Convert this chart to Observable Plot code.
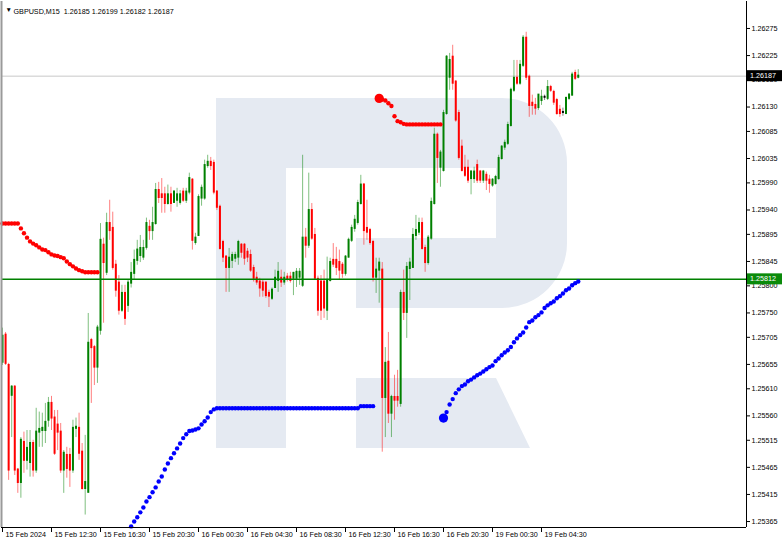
<!DOCTYPE html>
<html><head><meta charset="utf-8">
<script src="https://cdn.jsdelivr.net/npm/d3@7"></script>
<script src="https://cdn.jsdelivr.net/npm/@observablehq/plot@0.6"></script>
<style>
html,body{margin:0;padding:0;background:#fff;}
#chart{position:relative;width:782px;height:545px;overflow:hidden;background:#fff}
</style></head><body><div id="chart"></div>
<script>
const symbol = "GBPUSD,M15";
const open = [1.25659,1.25709,1.25653,1.25598,1.25613,1.25460,1.25437,1.25511,1.25478,1.25474,
1.25509,1.25460,1.25530,1.25533,1.25533,1.25552,1.25583,1.25556,1.25543,1.25530,
1.25460,1.25487,1.25487,1.25460,1.25537,1.25537,1.25493,1.25426,1.25419,1.25699,
1.25686,1.25650,1.25718,1.25875,1.25825,1.25915,1.25906,1.25838,1.25805,1.25755,
1.25786,1.25764,1.25805,1.25823,1.25847,1.25856,1.25853,1.25871,1.25908,1.25902,
1.25915,1.25976,1.25968,1.25968,1.25952,1.25968,1.25954,1.25958,1.25954,1.25973,
1.25958,1.25973,1.25995,1.25880,1.25893,1.25962,1.25962,1.26022,1.26028,1.26026,
1.25973,1.25945,1.25880,1.25853,1.25834,1.25847,1.25851,1.25853,1.25875,1.25875,
1.25862,1.25856,1.25832,1.25814,1.25807,1.25805,1.25805,1.25786,1.25777,1.25797,
1.25810,1.25814,1.25807,1.25816,1.25816,1.25814,1.25814,1.25816,1.25801,1.25888,
1.25875,1.25939,1.25893,1.25812,1.25807,1.25807,1.25755,1.25810,1.25847,1.25847,
1.25843,1.25838,1.25823,1.25853,1.25884,1.25906,1.25917,1.25952,1.25986,1.25906,
1.25902,1.25880,1.25816,1.25829,1.25829,1.25594,1.25659,1.25565,1.25594,1.25594,
1.25583,1.25786,1.25751,1.25832,1.25834,1.25893,1.25899,1.25915,1.25869,1.25843,
1.25888,1.25952,1.26078,1.26019,1.26013,1.26118,1.26185,1.26222,1.26176,1.26118,
1.26056,1.26017,1.26017,1.25998,1.25998,1.26022,1.26010,1.25995,1.26004,1.25995,
1.25986,1.25989,1.25998,1.26035,1.26056,1.26063,1.26096,1.26161,1.26183,1.26174,
1.26207,1.26257,1.26185,1.26137,1.26133,1.26129,1.26142,1.26148,1.26146,1.26166,
1.26157,1.26142,1.26124,1.26120,1.26118,1.26146,1.26152,1.26192,1.26185];
const high = [1.25722,1.25714,1.25657,1.25616,1.25616,1.25463,1.25520,1.25530,1.25533,1.25533,
1.25515,1.25574,1.25567,1.25565,1.25583,1.25594,1.25596,1.25570,1.25570,1.25546,
1.25496,1.25502,1.25500,1.25552,1.25556,1.25565,1.25509,1.25524,1.25749,1.25703,
1.25690,1.25727,1.25915,1.25888,1.25934,1.25958,1.25936,1.25847,1.25819,1.25801,
1.25801,1.25810,1.25843,1.25866,1.25884,1.25893,1.25884,1.25925,1.25921,1.25945,
1.25989,1.25991,1.25998,1.25982,1.25986,1.25982,1.25976,1.25980,1.25976,1.25980,
1.25980,1.26008,1.25998,1.25897,1.25968,1.25986,1.26032,1.26041,1.26037,1.26032,
1.25976,1.25949,1.25884,1.25856,1.25869,1.25862,1.25862,1.25884,1.25878,1.25878,
1.25869,1.25866,1.25838,1.25825,1.25814,1.25810,1.25807,1.25792,1.25796,1.25829,
1.25843,1.25829,1.25825,1.25823,1.25825,1.25825,1.25832,1.25832,1.26041,1.25906,
1.26008,1.25952,1.25906,1.25818,1.25819,1.25829,1.25853,1.25851,1.25878,1.25871,
1.25866,1.25843,1.25856,1.25888,1.25912,1.25930,1.25958,1.26004,1.25989,1.25958,
1.25906,1.25884,1.25851,1.25851,1.25843,1.25686,1.25714,1.25598,1.25635,1.25644,
1.25792,1.25829,1.25843,1.25851,1.25906,1.25930,1.25925,1.25925,1.25875,1.25893,
1.25962,1.26091,1.26082,1.26050,1.26124,1.26225,1.26229,1.26244,1.26179,1.26124,
1.26069,1.26041,1.26032,1.26013,1.26019,1.26032,1.26013,1.26013,1.26010,1.26004,
1.25998,1.26004,1.26041,1.26059,1.26069,1.26102,1.26165,1.26216,1.26216,1.26216,
1.26262,1.26268,1.26189,1.26152,1.26146,1.26152,1.26161,1.26152,1.26179,1.26170,
1.26161,1.26146,1.26133,1.26128,1.26148,1.26155,1.26194,1.26198,1.26199];
const low = [1.25653,1.25653,1.25441,1.25520,1.25450,1.25417,1.25408,1.25454,1.25460,1.25447,
1.25447,1.25454,1.25502,1.25502,1.25509,1.25539,1.25533,1.25487,1.25496,1.25454,
1.25417,1.25445,1.25428,1.25454,1.25520,1.25478,1.25423,1.25377,1.25417,1.25583,
1.25616,1.25620,1.25709,1.25731,1.25819,1.25884,1.25829,1.25779,1.25746,1.25751,
1.25727,1.25751,1.25796,1.25810,1.25838,1.25843,1.25847,1.25866,1.25884,1.25884,
1.25912,1.25952,1.25934,1.25934,1.25949,1.25936,1.25952,1.25945,1.25949,1.25954,
1.25952,1.25968,1.25866,1.25875,1.25891,1.25947,1.25958,1.26017,1.26013,1.25968,
1.25939,1.25866,1.25843,1.25788,1.25788,1.25832,1.25843,1.25838,1.25851,1.25838,
1.25843,1.25825,1.25807,1.25801,1.25779,1.25779,1.25777,1.25760,1.25773,1.25796,
1.25788,1.25797,1.25801,1.25807,1.25805,1.25782,1.25797,1.25801,1.25797,1.25851,
1.25869,1.25884,1.25810,1.25744,1.25736,1.25740,1.25736,1.25807,1.25834,1.25819,
1.25810,1.25814,1.25818,1.25851,1.25880,1.25899,1.25912,1.25949,1.25875,1.25884,
1.25875,1.25807,1.25786,1.25768,1.25493,1.25520,1.25546,1.25520,1.25552,1.25576,
1.25576,1.25736,1.25703,1.25773,1.25832,1.25884,1.25893,1.25866,1.25825,1.25838,
1.25884,1.25949,1.25989,1.25982,1.26010,1.26115,1.26161,1.26161,1.26102,1.26032,
1.26010,1.26000,1.25989,1.25968,1.25989,1.25989,1.25989,1.25989,1.25976,1.25971,
1.25982,1.25986,1.25995,1.26032,1.26050,1.26059,1.26093,1.26157,1.26170,1.26170,
1.26203,1.26179,1.26111,1.26115,1.26115,1.26124,1.26133,1.26142,1.26142,1.26157,
1.26133,1.26115,1.26111,1.26113,1.26117,1.26142,1.26150,1.26179,1.26182];
const close = [1.25707,1.25657,1.25460,1.25613,1.25460,1.25437,1.25515,1.25478,1.25500,1.25509,
1.25460,1.25530,1.25535,1.25537,1.25548,1.25583,1.25556,1.25491,1.25530,1.25460,
1.25491,1.25463,1.25460,1.25537,1.25539,1.25491,1.25426,1.25437,1.25694,1.25686,
1.25650,1.25722,1.25884,1.25843,1.25915,1.25902,1.25834,1.25792,1.25755,1.25786,
1.25740,1.25805,1.25823,1.25847,1.25866,1.25869,1.25869,1.25915,1.25902,1.25915,
1.25976,1.25963,1.25963,1.25952,1.25968,1.25952,1.25973,1.25968,1.25968,1.25958,
1.25973,1.25998,1.25884,1.25888,1.25963,1.25980,1.26022,1.26028,1.26022,1.25973,
1.25945,1.25869,1.25853,1.25834,1.25851,1.25856,1.25856,1.25880,1.25862,1.25851,
1.25853,1.25829,1.25814,1.25807,1.25796,1.25792,1.25782,1.25781,1.25792,1.25814,
1.25825,1.25807,1.25814,1.25812,1.25810,1.25823,1.25825,1.25825,1.25888,1.25875,
1.25939,1.25888,1.25814,1.25755,1.25755,1.25759,1.25810,1.25843,1.25840,1.25834,
1.25829,1.25823,1.25853,1.25884,1.25906,1.25921,1.25952,1.25986,1.25902,1.25899,
1.25880,1.25816,1.25829,1.25842,1.25594,1.25657,1.25565,1.25594,1.25589,1.25589,
1.25786,1.25751,1.25834,1.25842,1.25893,1.25902,1.25915,1.25869,1.25843,1.25888,
1.25954,1.26078,1.26037,1.26045,1.26118,1.26222,1.26216,1.26174,1.26106,1.26037,
1.26013,1.26004,1.25995,1.26010,1.26010,1.25995,1.25995,1.26010,1.25995,1.25989,
1.25995,1.26000,1.26035,1.26056,1.26063,1.26096,1.26161,1.26183,1.26174,1.26207,
1.26257,1.26185,1.26133,1.26133,1.26128,1.26152,1.26148,1.26148,1.26166,1.26161,
1.26139,1.26118,1.26118,1.26120,1.26146,1.26152,1.26189,1.26183,1.26187];

// stop-dot indicator series (first bar index + values)
const redStart1 = 0;
const redDots1 = [1.25915,1.25915,1.25915,1.25915,1.25915,1.25915,1.25906,1.25897,1.25889,1.25882,
1.25878,1.25875,1.25871,1.25867,1.25866,1.25862,1.25858,1.25856,1.25855,1.25853,
1.25851,1.25845,1.25840,1.25836,1.25832,1.25829,1.25827,1.25825,1.25825,1.25825,1.25825,1.25825];
const redStart2 = 123;
const redDots2 = [1.26146,1.26144,1.26142,1.26137,1.26132,1.26113,1.26104,1.26102,1.26099,
1.26098,1.26098,1.26098,1.26098,1.26098,1.26098,1.26098,1.26098,1.26098,1.26098,1.26098,1.26098];
const blueStart1 = 42;
const blueDots1 = [1.25356,1.25365,1.25373,1.25382,1.25391,1.25402,1.25410,1.25419,1.25428,1.25439,
1.25448,1.25461,1.25472,1.25482,1.25491,1.25500,1.25509,1.25519,1.25526,1.25532,
1.25533,1.25535,1.25537,1.25544,1.25550,1.25557,1.25567,1.25572,
1.25574,1.25574,1.25574,1.25574,1.25574,1.25574,1.25574,1.25574,1.25574,1.25574,
1.25574,1.25574,1.25574,1.25574,1.25574,1.25574,1.25574,1.25574,1.25574,1.25574,
1.25574,1.25574,1.25574,1.25574,1.25574,1.25574,1.25574,1.25574,1.25574,1.25574,
1.25574,1.25574,1.25574,1.25574,1.25574,1.25574,1.25574,1.25574,1.25574,1.25574,
1.25574,1.25574,1.25574,1.25574,1.25574,1.25574,1.25574,
1.25578,1.25578,1.25578,1.25578,1.25578];
const blueStart2 = 144;
const blueDots2 = [1.25556,1.25567,1.25581,1.25591,1.25602,1.25609,1.25615,1.25618,1.25624,1.25627,
1.25631,1.25635,1.25638,1.25642,1.25646,1.25650,1.25653,1.25661,1.25666,1.25672,
1.25677,1.25681,1.25687,1.25696,1.25703,1.25709,1.25714,1.25723,1.25733,1.25736,
1.25742,1.25746,1.25751,1.25759,1.25764,1.25768,1.25771,1.25777,1.25781,1.25786,
1.25792,1.25795,1.25801,1.25805,1.25808];

const levelPrice = 1.25812;
const xTickIdx = [0,16,32,48,64,80,96,112,128,144,160,176];
const xTickLabels = ["15 Feb 2024","15 Feb 12:30","15 Feb 16:30","15 Feb 20:30","16 Feb 00:30","16 Feb 04:30",
  "16 Feb 08:30","16 Feb 12:30","16 Feb 16:30","16 Feb 20:30","19 Feb 00:30","19 Feb 04:30"];
const yTicks = [1.26275,1.26225,1.26180,1.26130,1.26085,1.26035,1.25990,1.25940,1.25895,1.25845,
  1.25800,1.25750,1.25705,1.25655,1.25610,1.25560,1.25515,1.25465,1.25415,1.25365];

// ---- build
const rows = open.map((o, i) => ({i, open: o, high: high[i], low: low[i], close: close[i]}));
const last = rows[rows.length - 1];
const candleColor = d => d.close > d.open ? "#008000" : d.close < d.open ? "#ff0000" : "#000000";
const toPts = (vals, start) => vals.map((v, k) => ({i: start + k, v}));
const red1 = toPts(redDots1, redStart1), red2 = toPts(redDots2, redStart2);
const blue1 = toPts(blueDots1, blueStart1), blue2 = toPts(blueDots2, blueStart2);
const xTickRows = xTickIdx.map((i, k) => ({i, label: xTickLabels[k]}));

const W = 782, H = 545, mL = 1, mR = 36, mT = 1, mB = 18;
const xDomain = [-0.33, 242.94];
const yDomain = [1.25354, 1.263248];
const font = "'Liberation Sans', Arial, sans-serif";
const fs = "7.2px";

const chart = Plot.plot({
  width: W, height: H,
  marginLeft: mL, marginRight: mR, marginTop: mT, marginBottom: mB,
  style: {fontFamily: font, fontSize: fs, background: "transparent", color: "#000", overflow: "visible"},
  x: {domain: xDomain, axis: "bottom", ticks: xTickIdx, tickFormat: () => "", tickSize: 5, label: null},
  y: {domain: yDomain, axis: "right", ticks: yTicks, tickFormat: d3.format(".5f"), tickSize: 3, tickPadding: 2, label: null},
  marks: [
    Plot.ruleY([last.close], {stroke: "#c8c8c8", strokeWidth: 1}),
    Plot.ruleX(rows, {x: "i", y1: "low", y2: "high", stroke: candleColor, strokeWidth: 1, strokeOpacity: 0.5}),
    Plot.ruleX(rows, {x: "i", y1: "open", y2: "close", stroke: candleColor, strokeWidth: 2, strokeLinecap: "square"}),
    Plot.ruleY([levelPrice], {stroke: "#008000", strokeWidth: 1.5}),
    Plot.dot(red1, {x: "i", y: "v", r: 2.2, fill: "#ff0000"}),
    Plot.dot(red2, {x: "i", y: "v", r: 2.2, fill: "#ff0000"}),
    Plot.dot(red2.slice(0, 1), {x: "i", y: "v", r: 4.6, fill: "#ff0000"}),
    Plot.dot(blue1, {x: "i", y: "v", r: 2.2, fill: "#0000ff"}),
    Plot.dot(blue2, {x: "i", y: "v", r: 2.2, fill: "#0000ff"}),
    Plot.dot(blue2.slice(0, 1), {x: "i", y: "v", r: 4.6, fill: "#0000ff"}),
    Plot.ruleX([xDomain[0]], {stroke: "#9a9a9a", strokeWidth: 2}),
    Plot.ruleX([xDomain[1]], {stroke: "#000"}),
    Plot.ruleY([yDomain[0]], {stroke: "#000"}),
    Plot.text(xTickRows, {x: "i", text: "label", frameAnchor: "bottom", dy: 9, dx: 3, textAnchor: "start", fill: "#000"}),
    Plot.text(["▼"], {frameAnchor: "top-left", dx: 4, dy: 6, fontSize: 6.5, textAnchor: "start", fill: "#000"}),
    Plot.text([`${symbol}  ${last.open.toFixed(5)} ${last.high.toFixed(5)} ${last.low.toFixed(5)} ${last.close.toFixed(5)}`],
      {frameAnchor: "top-left", dx: 12, dy: 7, textAnchor: "start", fill: "#000"})
  ]
});

document.getElementById("chart").appendChild(chart);

// decorative watermark (background logo) and price boxes
const svg = d3.select(chart);
svg.insert("g", "g").attr("class", "watermark")
  .attr("fill", "#e5eaf2")
  .call(g => {
    g.append("path").attr("d", "M216,98H502A65,65 0 0 1 567,163V243A65,65 0 0 1 502,308H356V238H496V168H286V448H216Z");
    g.append("path").attr("d", "M356,378H496L530,448H356Z");
  });

const ys = chart.scale("y");
const yPix = v => (ys && ys.apply) ? ys.apply(v) : d3.scaleLinear().domain(yDomain).range([H - mB, mT])(v);
const boxes = [
  {v: last.close, fill: "#000000", color: "#ffffff"},
  {v: levelPrice, fill: "#0a8a0a", color: "#ffffff"}
];
const bg = svg.append("g").attr("text-anchor", "start");
boxes.forEach(b => {
  const yy = yPix(b.v);
  bg.append("rect").attr("x", W - mR + 1).attr("y", yy - 5.5).attr("width", mR - 1).attr("height", 11).attr("fill", b.fill);
  bg.append("text").attr("x", W - mR + 4).attr("y", yy).attr("dy", "0.35em").attr("text-anchor", "start")
    .attr("fill", b.color).attr("font-size", fs).attr("font-family", font).text(b.v.toFixed(5));
});
</script>
</body></html>
